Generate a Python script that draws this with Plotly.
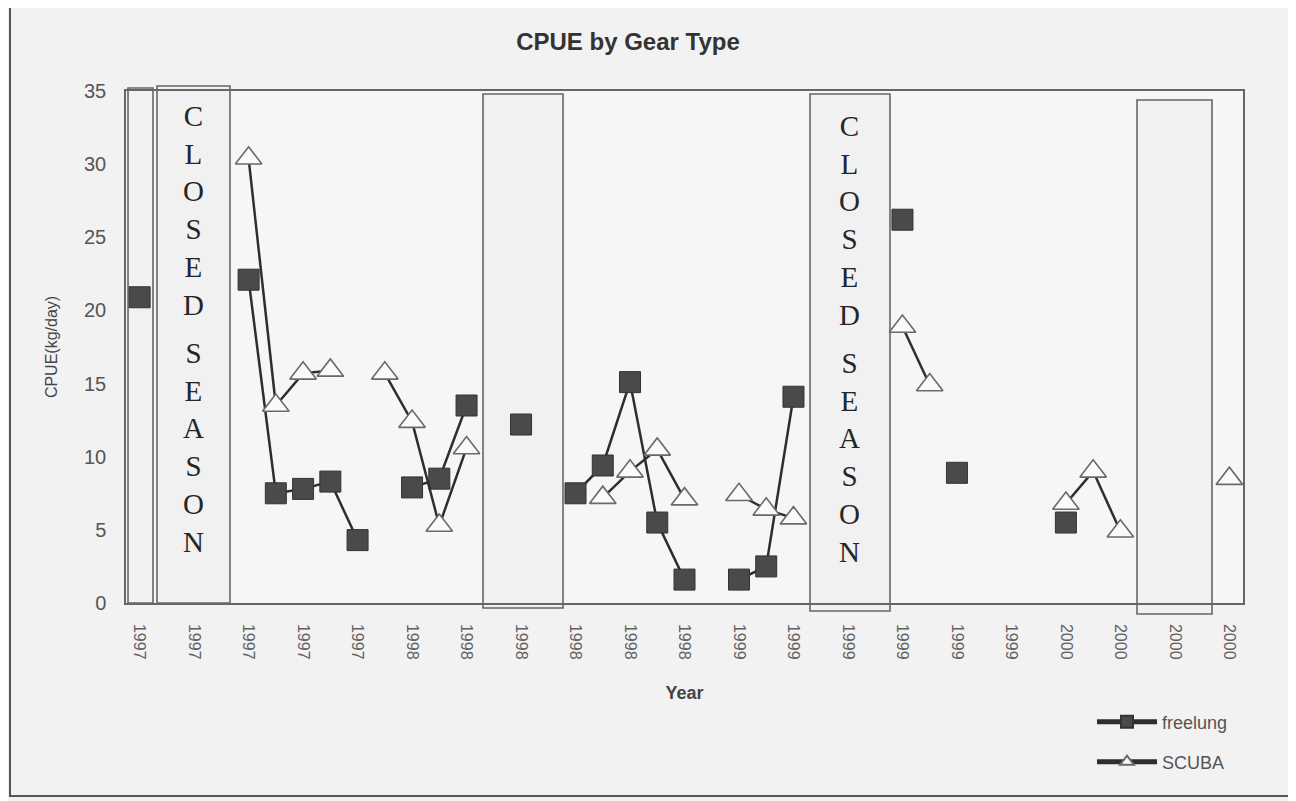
import plotly.graph_objects as go

# ---------------- data ----------------
month_ticks = [0, 2, 4, 6, 8, 10, 12, 14, 16, 18, 20, 22, 24, 26, 28, 30, 32, 34, 36, 38, 40]
tick_labels = ["1997", "1997", "1997", "1997", "1997",
               "1998", "1998", "1998", "1998", "1998", "1998",
               "1999", "1999", "1999", "1999", "1999", "1999",
               "2000", "2000", "2000", "2000"]

freelung_months = [0, 4, 5, 6, 7, 8, 10, 11, 12, 14, 16, 17, 18, 19, 20, 22, 23, 24, 28, 30, 34]
freelung_cpue = [20.9, 22.1, 7.5, 7.8, 8.3, 4.3, 7.9, 8.5, 13.5, 12.2, 7.5, 9.4, 15.1, 5.5, 1.6,
                 1.6, 2.5, 14.1, 26.2, 8.9, 5.5]

scuba_months = [4, 5, 6, 7, 9, 10, 11, 12, 17, 18, 19, 20, 22, 23, 24, 28, 29, 34, 35, 36, 40]
scuba_cpue = [30.4, 13.5, 15.7, 15.9, 15.7, 12.4, 5.3, 10.6, 7.2, 9.0, 10.5, 7.1, 7.4, 6.4, 5.8,
              18.9, 14.9, 6.8, 9.0, 4.9, 8.5]

closed_words = ["CLOSED", "SEASON"]

all_months = list(range(0, 41))


def full_series(months, values):
    lookup = dict(zip(months, values))
    return [lookup.get(m) for m in all_months]


# ---------------- layout helpers (reference pixel -> paper) ----------------
PAGE_W, PAGE_H = 1296, 801
OFF = 8  # browser body margin
W, H = PAGE_W - OFF, PAGE_H - OFF
PL, PR, PT, PB = 126, 1243, 91, 603  # plot area in reference pixels


def fx(px):
    return (px - PL) / (PR - PL)


def fy(py):
    return (PB - py) / (PB - PT)


fig = go.Figure()

fig.add_trace(go.Scatter(
    x=all_months, y=full_series(freelung_months, freelung_cpue),
    mode="lines+markers", name="freelung", connectgaps=False, showlegend=True,
    line=dict(color="#2e2e2e", width=2.5),
    marker=dict(symbol="square", size=21, color="#4a4a4a", line=dict(color="#333333", width=1)),
    legend="legend",
))
fig.add_trace(go.Scatter(
    x=all_months, y=full_series(scuba_months, scuba_cpue),
    mode="lines+markers", name="SCUBA", connectgaps=False, showlegend=True,
    line=dict(color="#2e2e2e", width=2.5),
    marker=dict(symbol="triangle-up", size=23, color="#fafafa", line=dict(color="#6a6a6a", width=1.6)),
    legend="legend2",
))

shapes = []
# outer border of the chart
shapes.append(dict(type="rect", xref="paper", yref="paper",
                   x0=fx(10), x1=fx(1292), y0=fy(796), y1=fy(7),
                   line=dict(color="#555555", width=2), fillcolor="rgba(0,0,0,0)", layer="below"))
# closed-season / gap boxes (pixel extents)
boxes = [(128, 153, 603, 88), (157, 230, 603, 86), (483, 563, 608, 94),
         (810, 890, 611, 94), (1137, 1212, 614, 100)]
for x0, x1, yb, yt in boxes:
    shapes.append(dict(type="rect", xref="x domain", yref="y domain",
                       x0=fx(x0), x1=fx(x1), y0=fy(yb), y1=fy(yt),
                       line=dict(color="#666666", width=1.6), fillcolor="#f1f1f1", layer="below"))

annotations = []
# CLOSED SEASON vertical (stacked) text, one block per word
word_centres = [210, 447]
for cx, dy in [(193, 0), (849, 10)]:
    for word, wy in zip(closed_words, word_centres):
        annotations.append(dict(text="<br>".join(word), xref="paper", yref="paper",
                                x=fx(cx), y=fy(wy + dy), xanchor="center", yanchor="middle",
                                showarrow=False, align="center",
                                font=dict(family="Liberation Serif, Times New Roman, serif",
                                          size=29, color="#262626")))

fig.update_layout(
    width=W, height=H,
    margin=dict(l=PL - OFF, r=PAGE_W - PR, t=PT - OFF, b=PAGE_H - PB, autoexpand=False),
    paper_bgcolor="#f2f2f2", plot_bgcolor="#f6f6f6",
    font=dict(family="Liberation Sans, Arial, sans-serif", color="#4a4a4a"),
    title=dict(text="<b>CPUE by Gear Type</b>", x=(628 - OFF) / W, xref="container",
               y=1 - (42 - OFF) / H, yref="container", xanchor="center", yanchor="middle",
               font=dict(size=24, color="#333333")),
    showlegend=True,
    xaxis=dict(range=[-0.5, 40.5], tickmode="array", tickvals=month_ticks, ticktext=tick_labels,
               tickangle=90, tickfont=dict(size=16, color="#606060"), ticks="",
               ticklabelstandoff=16,
               showgrid=False, zeroline=False, showline=True, linecolor="#666666", linewidth=1.5,
               mirror=True,
               title=dict(text="<b>Year</b>", font=dict(size=18, color="#444444"), standoff=28)),
    yaxis=dict(range=[0, 35], tickvals=[0, 5, 10, 15, 20, 25, 30, 35],
               tickfont=dict(size=20, color="#555555"), ticks="", ticklabelstandoff=14,
               showgrid=False, zeroline=False, showline=True, linecolor="#666666", linewidth=1.5,
               mirror=True,
               title=dict(text="CPUE(kg/day)", font=dict(size=16, color="#444444"), standoff=22)),
    legend=dict(x=fx(1092), y=fy(722), xanchor="left", yanchor="middle",
                bgcolor="rgba(0,0,0,0)", font=dict(size=18, color="#555555"),
                itemsizing="constant", itemwidth=60, visible=True),
    legend2=dict(x=fx(1092), y=fy(762), xanchor="left", yanchor="middle",
                 bgcolor="rgba(0,0,0,0)", font=dict(size=18, color="#555555"),
                 itemsizing="constant", itemwidth=60, visible=True),
    shapes=shapes,
    annotations=annotations,
)

fig.write_html("out.html")
